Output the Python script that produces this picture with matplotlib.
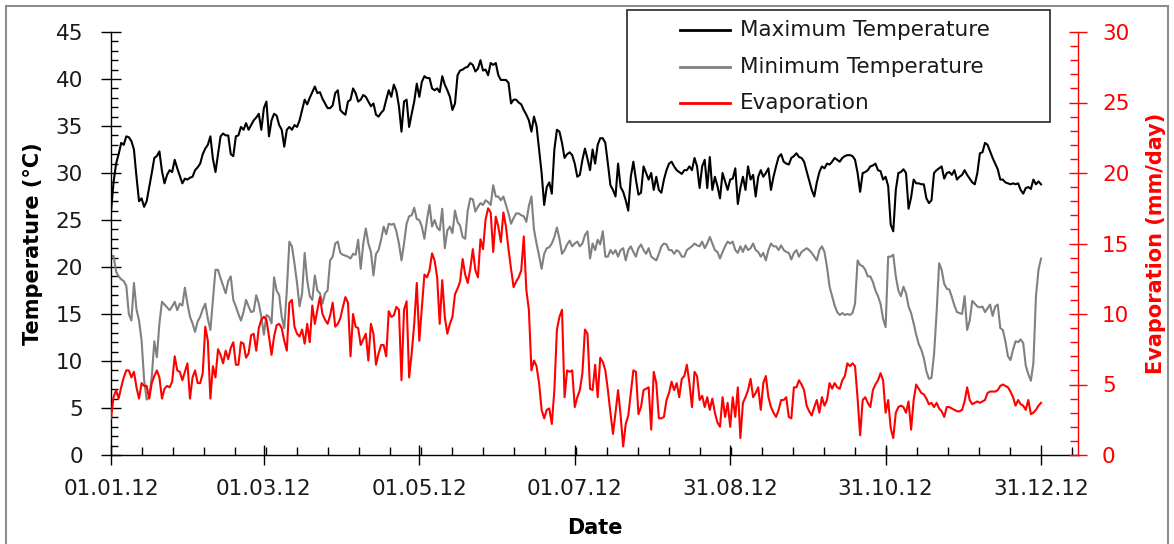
import numpy as np
import pandas as pd
import matplotlib
matplotlib.use("Agg")
import matplotlib.pyplot as plt
import matplotlib.dates as mdates
from matplotlib.patches import Rectangle
from matplotlib.lines import Line2D

# ---------------- data ----------------
dates = pd.date_range("2012-01-01", "2012-12-31", freq="D")
tick_dates = pd.to_datetime(["2012-01-01", "2012-03-01", "2012-05-01", "2012-07-01",
                             "2012-08-31", "2012-10-31", "2012-12-31"])
tick_labels = ["01.01.12", "01.03.12", "01.05.12", "01.07.12", "31.08.12", "31.10.12", "31.12.12"]
series_names = ["Maximum Temperature", "Minimum Temperature", "Evaporation"]

tmax = [25.9, 29.0, 31.0, 32.0, 33.2, 33.0, 33.9, 33.8, 33.4, 32.5, 29.6, 27.0, 27.3, 26.4, 27.0, 28.5, 30.0, 31.6, 31.8, 32.3,
        30.2, 28.9, 29.8, 30.3, 30.1, 31.4, 30.5, 29.7, 28.9, 29.4, 29.3, 29.5, 29.6, 30.3, 30.6, 31.0, 32.0, 32.6, 33.0, 33.9,
        31.5, 30.1, 32.0, 33.9, 34.2,
        34.0, 34.0, 32.0, 31.8, 33.9, 34.0, 34.9, 34.6, 35.3, 34.6, 35.1, 35.6, 35.9, 36.3, 34.6, 36.9, 37.6, 33.9, 35.6, 36.3,
        36.1, 35.1, 34.6, 32.8, 34.6, 34.9, 34.6, 35.1, 34.9, 35.6, 36.7, 37.8, 37.3, 38.0, 38.6, 39.2, 38.5, 38.6, 37.9, 37.4,
        36.9, 36.9, 37.2, 38.5, 38.8,
        36.7, 36.4,
        36.2, 37.6, 37.8, 39.0, 38.5, 37.6, 37.8, 38.3, 38.1, 37.6, 37.1, 37.4, 36.2, 36.0, 36.4, 36.7, 37.8, 38.8, 38.1, 39.4,
        38.7, 37.1, 34.4, 37.6, 37.8, 34.9, 36.3, 37.6, 39.5, 38.1, 39.7, 40.3, 40.1, 40.1, 39.0, 38.8, 39.0, 38.6, 40.3, 39.4,
        38.8, 38.1, 36.7, 37.4,
        40.4, 40.9, 41.0, 41.2, 41.3, 41.7, 41.5, 40.8, 41.1, 42.0, 40.9, 41.0, 40.4, 41.7, 41.5, 41.7, 40.4, 39.9, 39.9, 39.9,
        39.6, 37.4, 37.8, 37.8, 37.5, 37.3, 36.7, 36.2, 35.6, 34.4, 36.0, 35.0, 32.5, 30.0, 26.6, 28.5, 29.0, 27.8, 32.5, 34.6,
        34.4, 33.2, 31.6, 32.0, 32.2,
        31.9, 31.0, 29.6, 29.8, 31.4, 32.6, 31.5, 30.3, 32.5, 31.0, 33.0, 33.7, 33.7, 33.2, 31.0, 28.7, 28.2, 27.5, 31.0, 28.5,
        28.0, 27.1, 26.0, 29.6, 31.2, 29.3, 27.7, 27.9, 30.7, 30.0, 29.3, 30.0, 28.2, 29.6, 28.2, 27.9, 29.3, 30.3, 31.0, 31.2,
        30.7, 30.3, 30.1, 29.9, 30.3,
        30.3, 30.7, 30.3, 31.6, 30.7, 28.4, 30.7, 31.4, 28.4, 31.7, 28.2, 29.6, 28.6, 27.3, 30.0, 29.1, 28.2, 29.3, 29.4, 30.5,
        26.7, 28.4, 29.6, 28.2, 30.7, 29.3, 29.8, 27.5, 29.6, 30.3, 29.6, 30.0, 30.5, 28.2, 29.6, 30.7, 31.7, 32.0, 31.2, 31.0,
        30.9, 31.6, 31.8, 32.1,
        31.7, 31.6, 31.2, 30.2, 29.2,
        28.2, 27.5, 29.0, 30.1, 30.7, 30.5, 31.0, 30.9, 31.2, 31.6, 31.4, 31.2, 31.6, 31.8, 31.9, 31.9, 31.8, 31.4, 30.0, 28.0,
        30.0, 30.1, 30.3, 30.7, 30.8, 31.0, 30.3, 30.2, 29.3, 29.6, 28.6, 24.5, 23.8, 28.2, 30.0, 30.1, 30.4, 30.0, 26.2, 27.4,
        29.3,
        28.9, 28.9, 28.8, 28.8, 27.3, 26.8, 27.1, 30.0, 30.3, 30.5, 30.7, 29.4, 30.0, 30.1, 29.8, 30.3, 29.3, 29.6, 29.8, 30.3,
        29.8, 29.4, 29.0, 28.8, 30.0, 32.1, 32.2, 33.2, 33.0, 32.3, 31.6, 31.0, 30.4, 29.3, 29.3, 29.0, 28.9, 28.8, 28.9, 28.8,
        28.9, 28.2, 27.8, 28.4, 28.5, 28.3, 29.3, 28.8, 29.1, 28.8]

tmin = [21.1, 21.2, 19.5, 19.0, 18.7, 18.5, 18.0, 15.0, 14.3, 18.3, 15.5, 14.3, 12.2, 8.0, 5.9, 6.2, 8.3, 12.1, 10.4, 14.0,
        16.3, 16.0, 15.7, 15.4, 15.8, 16.3, 15.4, 16.1, 15.9, 17.8, 16.1, 14.7, 14.0, 13.1, 14.2, 14.7, 15.5, 16.1, 14.5, 13.3,
        16.5, 19.7, 19.7, 18.8, 18.0,
        17.2, 18.5, 19.0, 16.5, 15.8, 15.0, 14.3, 15.2, 16.5, 15.8, 15.2, 15.3, 17.0, 16.1, 14.7, 12.8, 14.9, 14.7, 14.0, 18.9,
        17.5, 17.0, 14.7, 13.5, 17.5, 22.7, 22.2, 20.4, 18.3, 15.8, 17.2, 21.5, 18.6, 16.9, 16.5, 19.1, 17.5, 17.2, 16.1, 17.2,
        17.5, 20.7, 21.1, 22.5, 22.7,
        21.5, 21.3,
        21.2, 21.1, 20.9, 21.4, 21.3, 22.9, 19.8, 22.5, 24.1, 22.5, 21.6, 19.1, 21.4, 21.8, 22.9, 24.3, 23.5, 24.6, 24.5, 24.6,
        23.8, 22.5, 20.7, 22.5, 24.6, 25.4, 25.5, 26.3, 25.1, 25.0, 24.3, 23.0, 25.0, 26.6, 24.3, 25.0, 24.2, 23.9, 26.2, 22.0,
        23.9, 24.3, 23.6, 26.0,
        24.8, 24.4, 23.2, 23.0, 26.0, 27.3, 27.2, 25.9, 26.4, 26.8, 26.6, 27.1, 26.9, 26.6, 28.7, 27.5, 27.5, 27.1, 27.5, 26.6,
        25.7, 24.6, 25.2, 25.7, 25.7, 25.5, 25.4, 24.8, 26.5, 27.5, 24.0, 22.5, 21.2, 19.8, 21.4, 22.0, 22.1, 22.5, 23.2, 24.2,
        23.0, 21.4, 21.8, 22.4, 22.8,
        22.2, 22.5, 22.7, 22.2, 22.5, 23.4, 23.8, 20.9, 22.5, 21.8, 22.9, 22.4, 23.8, 21.1, 21.1, 21.8, 21.4, 21.8, 21.1, 21.8,
        22.0, 20.7, 21.8, 22.2, 21.6, 21.1, 22.0, 22.4, 21.8, 21.4, 22.0, 21.1, 20.9, 20.7, 21.4, 22.2, 22.5, 22.4, 21.8, 21.8,
        21.4, 21.8, 21.6, 21.1, 21.1,
        21.8, 22.0, 22.2, 22.5, 22.3, 22.2, 22.7, 22.0, 22.5, 23.2, 22.5, 21.8, 21.6, 20.9, 21.6, 22.2, 22.7, 22.5, 22.7, 21.8,
        21.5, 22.2, 21.6, 22.3, 21.8, 22.0, 22.5, 21.8, 21.6, 21.1, 21.5, 20.7, 21.8, 22.5, 22.2, 22.2, 21.8, 22.3, 21.8, 21.6,
        21.5, 20.8, 21.5, 21.8,
        21.1, 21.6, 21.8, 22.0, 21.8,
        21.5, 21.1, 20.7, 21.8, 22.2, 21.6, 20.0, 17.9, 16.9, 15.9, 15.2, 14.9, 15.1, 14.9, 15.0, 14.9, 15.1, 16.1, 20.7, 20.2,
        20.1, 19.7, 19.0, 19.0, 18.4, 17.5, 16.9, 16.1, 14.5, 13.6, 21.1, 21.1, 21.3, 19.0, 17.5, 16.9, 17.9, 17.2, 15.8, 15.1,
        14.0,
        12.8, 11.8, 11.2, 10.3, 8.9, 8.1, 8.2, 10.7, 15.1, 20.4, 19.7, 18.2, 17.7, 17.6, 16.8, 15.9, 15.2, 15.1, 15.0, 16.9,
        13.3, 14.3, 16.4, 16.1, 15.8, 15.7, 15.8, 15.2, 15.6, 16.0, 14.8, 15.8, 16.0, 13.5, 13.3, 12.1, 10.5, 10.1, 11.2, 12.1,
        12.0, 12.3, 11.9, 9.5, 8.6, 7.9, 9.8, 16.9, 19.7, 20.9]

evap = [2.6, 4.1, 4.6, 4.0, 4.8, 5.5, 6.0, 6.0, 5.5, 5.9, 4.8, 4.0, 5.1, 4.9, 4.9, 4.0, 5.1, 5.6, 6.0, 5.5,
        4.0, 4.7, 4.9, 4.8, 5.2, 7.0, 6.0, 5.9, 5.3, 5.9, 6.5, 4.0, 5.5, 6.0, 5.1, 5.1, 5.8, 9.1, 8.1, 4.0,
        6.3, 5.5, 7.5, 7.1, 6.5,
        7.4, 6.8, 7.6, 8.0, 6.4, 6.4, 8.0, 7.9, 6.9, 7.2, 8.5, 8.6, 7.4, 9.0, 9.6, 9.8, 9.6, 8.4, 7.1, 8.4,
        9.2, 9.3, 9.0, 8.1, 7.4, 10.8, 11.0, 9.1, 8.6, 8.4, 8.9, 7.9, 9.3, 8.0, 10.6, 9.3, 10.3, 11.2, 10.0, 9.6,
        9.3, 9.9, 10.8, 9.1, 9.3,
        9.7, 10.5,
        11.2, 10.8, 7.0, 10.0, 9.1, 9.0, 7.8, 8.2, 8.6, 6.7, 9.3, 8.6, 6.4, 7.2, 7.8, 7.8, 7.0, 10.2, 9.8, 9.9,
        10.5, 10.3, 5.3, 10.3, 10.9, 5.5, 7.2, 9.3, 12.2, 8.1, 10.5, 12.8, 12.6, 13.1, 14.3, 13.8, 12.6, 9.3, 12.4, 9.8,
        8.6, 9.3, 9.8, 11.4,
        11.8, 12.3, 13.9, 12.8, 12.2, 13.2, 14.6, 13.1, 12.6, 15.3, 14.6, 16.7, 17.5, 17.2, 14.4, 16.9, 16.2, 15.1, 17.2, 16.2,
        14.6, 13.2, 11.9, 12.3, 12.6, 13.1, 15.5, 11.7, 10.3, 6.0, 6.7, 6.3, 5.1, 3.2, 2.6, 3.2, 3.3, 2.2, 4.6, 8.9,
        9.8, 10.3, 4.1, 6.0, 5.9,
        6.0, 3.4, 4.1, 4.6, 5.8, 8.9, 8.6, 4.7, 4.6, 6.4, 4.1, 6.9, 6.6, 6.0, 4.6, 3.0, 1.5, 3.0, 4.6, 2.8,
        0.6, 2.2, 2.8, 4.4, 6.0, 5.9, 2.9, 3.4, 4.6, 4.7, 4.8, 1.8, 5.9, 5.1, 2.6, 2.6, 2.7, 3.9, 4.4, 5.2,
        4.6, 5.1, 4.1, 5.4, 5.6,
        6.4, 5.1, 3.4, 5.9, 5.6, 3.9, 4.2, 3.4, 4.1, 3.2, 4.0, 3.0, 2.3, 2.0, 4.1, 2.7, 3.7, 2.0, 4.1, 2.7,
        4.8, 1.2, 3.7, 4.1, 4.6, 5.4, 4.1, 4.4, 4.8, 3.2, 5.1, 5.6, 4.1, 3.4, 3.0, 2.7, 3.2, 3.9, 3.9, 4.1,
        2.7, 2.6, 4.8, 4.8,
        5.3, 5.0, 4.6, 3.5, 3.1,
        2.8, 3.4, 3.9, 3.0, 4.1, 3.5, 3.9, 5.1, 4.7, 5.1, 4.8, 4.7, 5.3, 5.6, 6.5, 6.3, 6.5, 6.3, 4.0, 1.4,
        3.9, 4.1, 3.7, 3.4, 4.6, 5.0, 5.3, 5.8, 5.3, 3.0, 3.9, 1.9, 1.2, 3.0, 3.4, 3.5, 3.4, 3.0, 3.8, 1.8,
        3.9,
        5.0, 4.7, 4.4, 4.3, 4.0, 3.6, 3.7, 3.4, 3.7, 3.3, 3.1, 2.7, 3.4, 3.4, 3.3, 3.2, 3.1, 3.1, 3.2, 3.8,
        4.8, 3.9, 3.6, 3.7, 3.8, 3.7, 3.8, 3.9, 4.4, 4.5, 4.5, 4.5, 4.6, 4.9, 5.0, 4.9, 4.8, 4.5, 4.1, 3.5,
        3.9, 3.6, 3.5, 3.2, 3.9, 2.9, 3.0, 3.2, 3.5, 3.7]

assert len(tmax) == len(dates) and len(tmin) == len(dates) and len(evap) == len(dates), (len(tmax), len(tmin), len(evap))

# ---------------- figure ----------------
W, H = 1174, 544
plt.rcParams["font.family"] = ["DejaVu Sans"]
fig = plt.figure(figsize=(W / 100, H / 100), dpi=100)
fig.patch.set_facecolor("white")

# outer chart border (Excel chart area)
fig.patches.append(Rectangle((5.5 / W, -0.05), (1168 - 5.5) / W, 1 - 5.5 / H + 0.05,
                             transform=fig.transFigure, fill=False, edgecolor="#8c8c8c", lw=1.5))

ax = fig.add_axes([111 / W, (H - 455) / H, (1078 - 111) / W, (455 - 32) / H])
ax.set_facecolor("none")
ax2 = ax.twinx()

l1, = ax.plot(dates, tmax, color="black", lw=1.5, label=series_names[0])
l2, = ax.plot(dates, tmin, color="#808080", lw=1.5, label=series_names[1])
l3, = ax2.plot(dates, evap, color="#ff0000", lw=1.5, label=series_names[2])

x0 = mdates.date2num(pd.Timestamp("2012-01-01"))
x365 = mdates.date2num(pd.Timestamp("2012-12-31"))
ax.set_xlim(x0, x0 + 379.5)
ax.set_ylim(0, 45)
ax2.set_ylim(0, 30)

major_x = mdates.date2num(tick_dates)
ax.set_xticks(major_x)
ax.set_xticklabels(tick_labels)
minor_x = np.arange(x0, x0 + 380, (x365 - x0) / 30)
ax.set_xticks(minor_x, minor=True)
ax.set_yticks(np.arange(0, 46, 5))
ax.set_yticks(np.arange(0, 46, 1), minor=True)
ax2.set_yticks(np.arange(0, 31, 5))
ax2.set_yticks(np.arange(0, 31, 1), minor=True)

for s in ["top", "right"]:
    ax.spines[s].set_visible(False)
for s in ["top", "left", "bottom"]:
    ax2.spines[s].set_visible(False)
ax.spines["left"].set_color("black")
ax.spines["bottom"].set_color("black")
ax.spines["left"].set_linewidth(1.0)
ax.spines["bottom"].set_linewidth(1.0)
ax2.spines["right"].set_color("#ff0000")
ax2.spines["right"].set_linewidth(1.0)

fs = 15.5
ax.tick_params(axis="x", which="major", direction="inout", length=14.4, width=1.0,
               labelsize=fs, pad=10, colors="black", labelcolor="#1a1a1a")
ax.tick_params(axis="x", which="minor", direction="in", length=5.8, width=1.0, colors="black")
ax.tick_params(axis="y", which="major", direction="inout", length=14.4, width=1.0,
               labelsize=fs, pad=13, colors="black", labelcolor="#1a1a1a")
ax.tick_params(axis="y", which="minor", direction="in", length=5.2, width=1.0, colors="black")
ax2.tick_params(axis="y", which="major", direction="inout", length=12.5, width=1.0,
                labelsize=fs, pad=11, colors="#ff0000", labelcolor="#ff0000")
ax2.tick_params(axis="y", which="minor", direction="in", length=5.8, width=1.0, colors="#ff0000")

lab_fs = 15
ax.set_ylabel("Temperature (°C)", fontsize=lab_fs, fontweight="bold", color="black", va="center")
ax.yaxis.set_label_coords((33 - 111) / (1078 - 111), 0.5)
ax.set_xlabel("Date", fontsize=lab_fs, fontweight="bold", color="black", va="center")
ax.xaxis.set_label_coords(0.5, (455 - 528) / (455 - 32))
ax2.set_ylabel("Evaporation (mm/day)", fontsize=lab_fs, fontweight="bold", color="#ff0000",
               va="center", rotation=90)
ax2.yaxis.set_label_coords((1156 - 111) / (1078 - 111), 0.5)

# legend box (figure coords, as in the reference)
fig.patches.append(Rectangle((627 / W, 1 - 122 / H), (1050 - 627) / W, (122 - 10) / H,
                             transform=fig.transFigure, facecolor="white",
                             edgecolor="#262626", lw=1.2, zorder=5))
for line, ypx in zip([l1, l2, l3], [30, 67, 103]):
    yf = 1 - ypx / H
    fig.lines.append(Line2D([680 / W, 730 / W], [yf, yf], transform=fig.transFigure,
                            color=line.get_color(), lw=2.0, zorder=6))
    fig.text(740 / W, yf, line.get_label(), fontsize=fs, color="#1a1a1a",
             va="center", ha="left", zorder=6)

fig.savefig("out.png", dpi=100)
